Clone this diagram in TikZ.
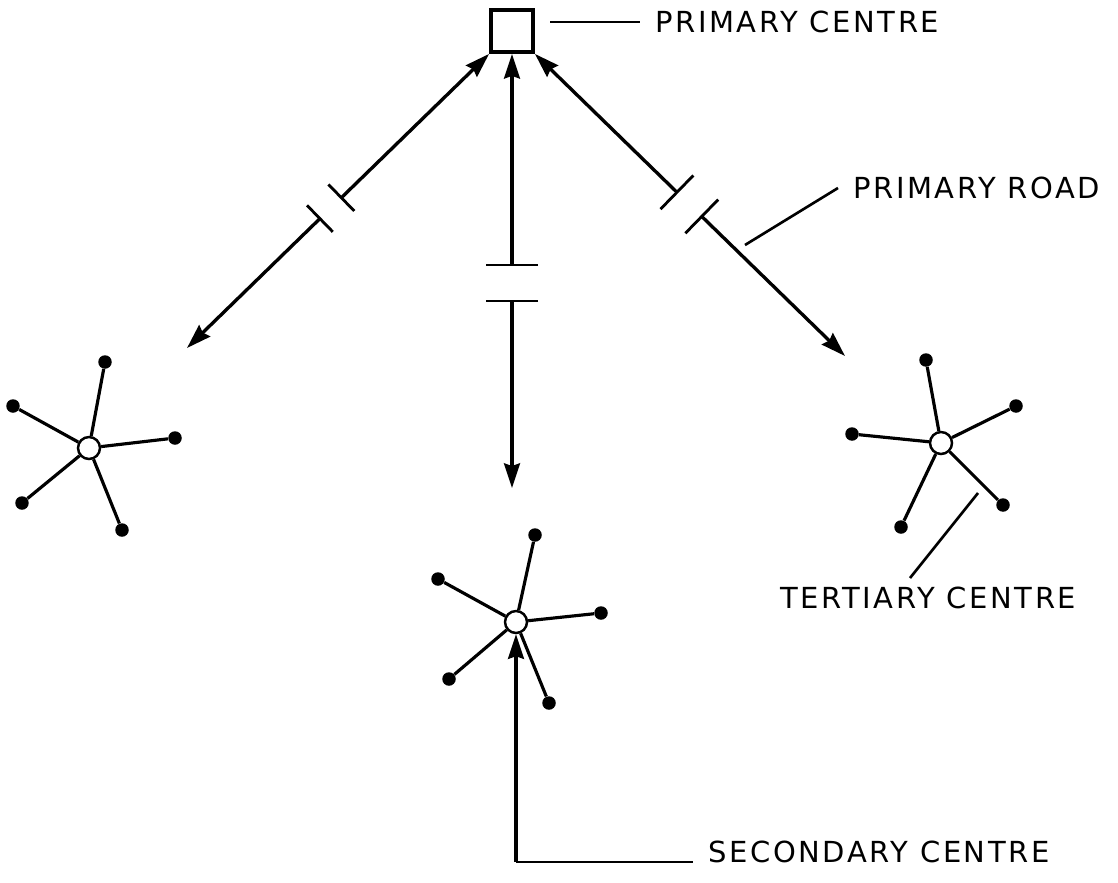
\documentclass[tikz,border=0pt]{standalone}
\usepackage{fontspec}
\newfontfamily\lblfont[LetterSpace=9]{DejaVu Sans}
\usetikzlibrary{arrows.meta,calc}
\begin{document}
\begin{tikzpicture}[x=0.02cm, y=-0.02cm,
    road/.style={line width=1.9pt, -{Stealth[length=14pt,width=9pt,inset=1.5pt]}},
    spoke/.style={line width=1.8pt},
    hub/.style={circle, draw, line width=1.4pt, fill=white, minimum size=0.44cm, inner sep=0pt},
    dot/.style={circle, fill=black, minimum size=0.27cm, inner sep=0pt},
    lbl/.style={font=\lblfont\fontsize{16.5}{18}\selectfont, inner xsep=0.3cm, inner ysep=0pt},
    lead/.style={line width=1.5pt},
    brk/.style={line width=1.6pt}]
\useasboundingbox (0,0) rectangle (1118,882);

% centres
\node[draw, line width=2.2pt, minimum size=0.84cm, inner sep=0pt] (pc) at (512,31) {};
\node[hub] (tl) at (89,448) {};
\node[hub] (tr) at (941,443) {};
\node[hub] (sc) at (516,622) {};

% spokes
\foreach \n/\p in {1/{105,362}, 2/{13,406}, 3/{175,438}, 4/{22,503}, 5/{122,530}}{
    \node[dot] (tl\n) at (\p) {};
    \draw[spoke] (tl) -- (tl\n);
}
\foreach \n/\p in {1/{926,360}, 2/{1016,406}, 3/{852,434}, 4/{901,527}, 5/{1003,505}}{
    \node[dot] (tr\n) at (\p) {};
    \draw[spoke] (tr) -- (tr\n);
}
\foreach \n/\p in {1/{535,535}, 2/{438,579}, 3/{601,613}, 4/{449,679}, 5/{549,703}}{
    \node[dot] (sc\n) at (\p) {};
    \draw[spoke] (sc) -- (sc\n);
}

% primary roads
\coordinate (lt) at (187,348);
\coordinate (mt) at (512,488);
\coordinate (rt) at (845,356);
\coordinate (la) at ($(pc.south west)!0.489!(lt)$);
\coordinate (lb) at ($(pc.south west)!0.56!(lt)$);
\coordinate (ma) at (512,265);
\coordinate (mb) at (512,301);
\coordinate (ra) at ($(pc.south east)!0.458!(rt)$);
\coordinate (rb) at ($(pc.south east)!0.538!(rt)$);

\draw[road] (la) -- (pc.south west);
\draw[road] (lb) -- (lt);
\draw[road] (ma) -- (pc.south);
\draw[road] (mb) -- (mt);
\draw[road] (ra) -- (pc.south east);
\draw[road] (rb) -- (rt);

% breaks
\draw[brk] ($(la)!0.37cm!90:(lt)$) -- ($(la)!0.37cm!-90:(lt)$);
\draw[brk] ($(lb)!0.37cm!90:(lt)$) -- ($(lb)!0.37cm!-90:(lt)$);
\draw[brk] ($(ma)!0.52cm!90:(mt)$) -- ($(ma)!0.52cm!-90:(mt)$);
\draw[brk] ($(mb)!0.52cm!90:(mt)$) -- ($(mb)!0.52cm!-90:(mt)$);
\draw[brk] ($(ra)!0.47cm!90:(rt)$) -- ($(ra)!0.47cm!-90:(rt)$);
\draw[brk] ($(rb)!0.47cm!90:(rt)$) -- ($(rb)!0.47cm!-90:(rt)$);

% labels
\node[lbl, anchor=west] (pcl) at (640,22) {PRIMARY CENTRE};
\coordinate (pca) at (550,22);
\draw[lead] (pca) -- (pcl.west);

\node[lbl, anchor=west] (prl) at (838,188) {PRIMARY ROAD};
\coordinate (pra) at (745,245);
\draw[lead] (pra) -- (prl.west);

\node[lbl, anchor=north west] (tcl) at (765,587) {TERTIARY CENTRE};
\coordinate (tca) at (978,493);
\coordinate (tcb) at (910,578);
\draw[lead] (tca) -- (tcb);

\node[lbl, anchor=base west] (scl) at (693,862) {SECONDARY CENTRE};
\coordinate (scc) at (sc.south |- scl.base west);
\draw[road] (scc) -- (sc);
\draw[lead] (scc) -- (scl.base west);
\end{tikzpicture}
\end{document}
